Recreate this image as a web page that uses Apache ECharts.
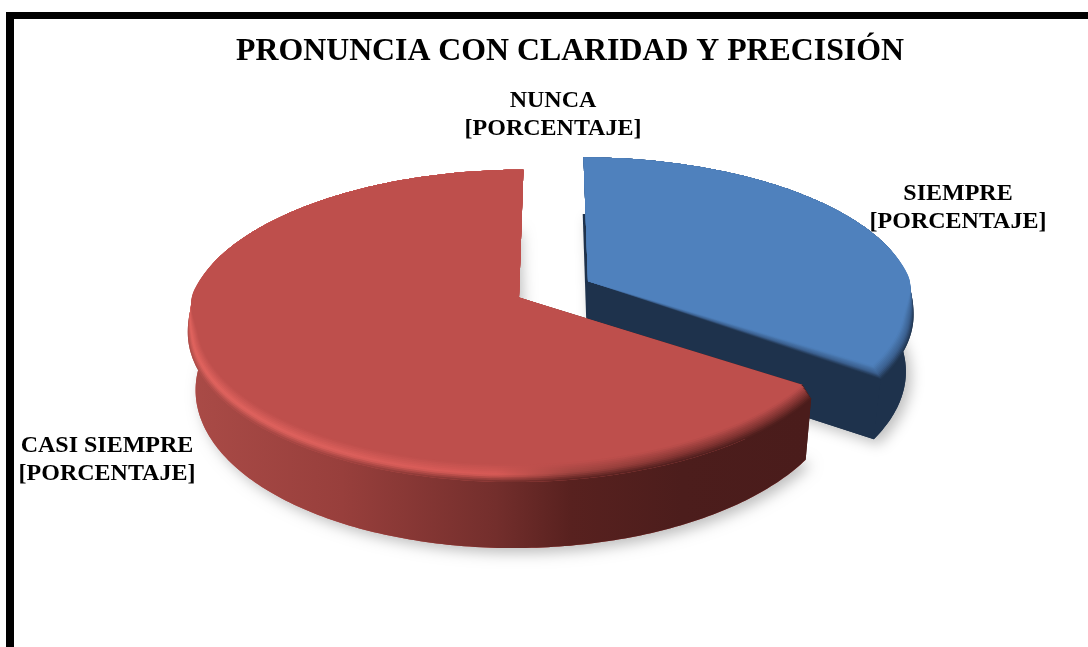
<!DOCTYPE html>
<html>
<head>
<meta charset="utf-8">
<style>html,body{margin:0;padding:0;background:#fff}#c{width:1088px;height:647px}</style>
<script src="https://cdn.jsdelivr.net/npm/echarts@6/dist/echarts.min.js"></script>
</head>
<body>
<div id="c"></div>
<script>
// ---- data ----
const chartTitle = 'PRONUNCIA CON CLARIDAD Y PRECISIÓN';
const categories = ['SIEMPRE', 'CASI SIEMPRE', 'NUNCA'];
const values = [34.5, 65.5, 0];
const labelValueText = '[PORCENTAJE]';
const explosions = [0.24, 0, 0];

// ---- layout / style ----
const FONT = '"Liberation Serif","Times New Roman",serif';
const view = { x0: 553, ax: 519, ay: 297.5, f: 328, g: 147, k: 0.15, h: 66, shrink: 0.025 };
const bevel = { width: 0.03, z: 0.15, strips: 10, peak: 0.6 };
const labelAt = [[958, 208], [107, 460], [553, 115]];
const looks = [
  { face: '#4F81BD', under: '#1E324C', trim: 0, x0: 588, x1: 912, stops: [[0, '#3a5f8e', '#1E324C'], [1, '#3a5f8e', '#1E324C']] },
  { face: '#BE4F4C', under: '#BE4F4C', trim: 0.02, x0: 187, x1: 806, stops: [
      [0, '#E2645F', '#AA4B47'], [0.25, '#DE605C', '#983F3C'], [0.5, '#D85A56', '#732E2C'],
      [0.62, '#A04440', '#58211F'], [0.8, '#853533', '#4C1D1C'], [1, '#7A302E', '#4A1C1B']] },
  { face: '#9BBB59', under: '#6f8a3a', trim: 0, x0: 0, x1: 1, stops: [[0, '#9BBB59', '#6f8a3a'], [1, '#9BBB59', '#6f8a3a']] }
];

function hex(c) { return [1, 3, 5].map(i => parseInt(c.substr(i, 2), 16)); }
function mix(a, b, t) {
  const A = hex(a), B = hex(b);
  return '#' + A.map((v, i) => Math.round(v + (B[i] - v) * t).toString(16).padStart(2, '0')).join('');
}
const total = values.reduce((a, b) => a + b, 0);

function project(u, v, z) {
  const s = 1 / (1 + view.k * v);
  const w = 1 - view.shrink * z;
  return [view.x0 + (view.ax - view.x0 + view.f * u) * s * w, view.ay + (-view.g * v + view.h * z) * s];
}
function smooth(q) { q = Math.min(1, Math.max(0, q)); return q * q * (3 - 2 * q); }
// inner edge of the bevel: none at the back of the pie, full width at the front
function faceRadius(a) { return 1 - bevel.width * smooth((0.05 - Math.cos(a)) / 0.3); }
function bevelDrop(a) { return bevel.z * smooth((0.3 - Math.cos(a)) / 0.5); }

function renderSlice(params, api) {
  const i = params.dataIndex;
  const val = api.value(0);
  let before = 0;
  for (let n = 0; n < i; n++) before += values[n];
  const a0 = before / total * 2 * Math.PI;
  const a1 = (before + val) / total * 2 * Math.PI;
  const look = looks[i];
  const mid = (a0 + a1) / 2, e = explosions[i];
  const ox = e * Math.sin(mid), oy = e * Math.cos(mid);
  const arc = (rf, zf, keep) => {
    const pts = [], n = Math.max(2, Math.ceil((a1 - a0) / 0.015));
    for (let j = 0; j <= n; j++) {
      const t = a0 + (a1 - a0) * j / n, r = rf(t);
      if (keep && !keep(t)) continue;
      pts.push(project(ox + r * Math.sin(t), oy + r * Math.cos(t), zf(t)));
    }
    return pts;
  };
  const one = () => 1, zero = () => 0;
  const grad = fn => ({
    type: 'linear', x: look.x0, y: 0, x2: look.x1, y2: 0, global: true,
    colorStops: look.stops.map(s => ({ offset: s[0], color: fn(s) }))
  });
  const poly = (points, fill, extra) => ({
    type: 'polygon', shape: { points: points },
    style: Object.assign({ fill: fill, stroke: null }, extra || {})
  });
  const kids = [];
  const labelText = {
    type: 'text',
    z2: 50,
    style: {
      text: categories[i] + '\n' + labelValueText,
      x: labelAt[i][0], y: labelAt[i][1],
      align: 'center', verticalAlign: 'middle',
      fill: '#000', font: 'bold 24px ' + FONT, lineHeight: 28
    }
  };
  if (val > 0) {
    const apexB = project(ox, oy, 1), apexT = project(ox, oy, 0);
    const sideDark = look.stops[look.stops.length - 1][2];
    const frontHalf = a => Math.cos(a) < 0.3;
    const trimmed = a => a <= a1 - look.trim;
    // ground sector carrying the soft shadow
    kids.push(poly([apexB].concat(arc(one, one, trimmed)), look.under, {
      shadowBlur: 14, shadowColor: 'rgba(0,0,0,0.26)', shadowOffsetX: 5, shadowOffsetY: 5
    }));
    // radial walls on the front half only
    [a0, a1].filter(a => Math.cos(a) < 0).forEach(a => {
      const pt = (r, z) => project(ox + r * Math.sin(a), oy + r * Math.cos(a), z);
      kids.push(poly([apexT, pt(faceRadius(a), 0), pt(1, bevelDrop(a)), pt(1, 1), apexB], sideDark));
    });
    // outer wall
    kids.push(poly(arc(one, bevelDrop, frontHalf).concat(arc(one, one, frontHalf).reverse()), grad(s => s[2])));
    // bevel: nested sectors, outermost first, so no seams show between them
    for (let n = bevel.strips; n >= 1; n--) {
      const t = n / bevel.strips, tc = (n - 0.5) / bevel.strips;
      const colour = s => tc < bevel.peak
        ? mix(look.face, s[1], tc / bevel.peak)
        : mix(s[1], s[2], (tc - bevel.peak) / (1 - bevel.peak));
      const rr = a => { const f = faceRadius(a); return f + (1 - f) * t; };
      kids.push(poly([apexT].concat(arc(rr, a => bevelDrop(a) * t)), grad(colour)));
    }
    // top face
    kids.push(poly([apexT].concat(arc(faceRadius, zero)), look.face));
  }
  kids.push(labelText);
  return { type: 'group', children: kids };
}

const option = {
  animation: false,
  backgroundColor: '#fff',
  title: {
    text: chartTitle, left: 565, top: 31, textAlign: 'center',
    textStyle: { fontFamily: FONT, fontWeight: 'bold', fontSize: 31.8, color: '#000' }
  },
  graphic: [
    { type: 'rect', shape: { x: 6, y: 12, width: 1082, height: 7 }, style: { fill: '#000' } },
    { type: 'rect', shape: { x: 6, y: 12, width: 8, height: 635 }, style: { fill: '#000' } }
  ],
  series: [{
    type: 'custom',
    coordinateSystem: 'none',
    clip: false,
    silent: true,
    renderItem: renderSlice,
    data: categories.map((c, i) => ({ name: c, value: [values[i]] }))
  }]
};
const chart = echarts.init(document.getElementById('c'), null, { renderer: 'canvas' });
chart.setOption(option);
</script>
</body>
</html>
